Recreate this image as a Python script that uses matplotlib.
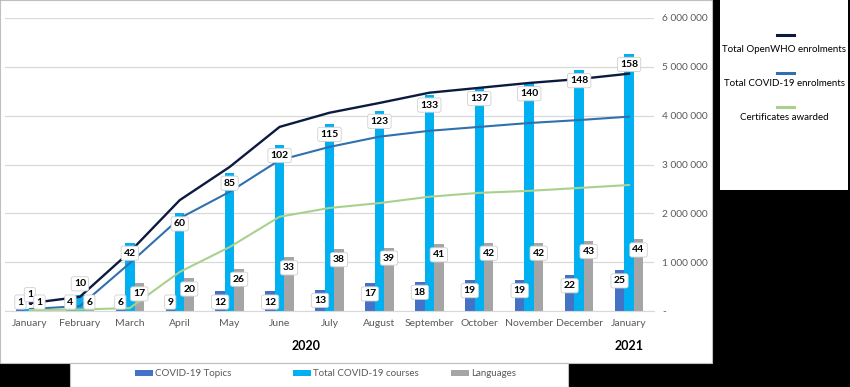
import matplotlib.pyplot as plt
from matplotlib.patches import Rectangle
from matplotlib.lines import Line2D
from matplotlib.ticker import FuncFormatter, MultipleLocator

plt.rcParams['font.family'] = ['Lato', 'DejaVu Sans']

# --- DATA ---
months = ["January", "February", "March", "April", "May", "June", "July",
          "August", "September", "October", "November", "December", "January"]
topics = [1, 4, 6, 9, 12, 12, 13, 17, 18, 19, 19, 22, 25]
courses = [1, 10, 42, 60, 85, 102, 115, 123, 133, 137, 140, 148, 158]
languages = [1, 6, 17, 20, 26, 33, 38, 39, 41, 42, 42, 43, 44]

openwho_enrol = [160000, 290000, 1210000, 2270000, 2950000, 3770000, 4060000,
                 4260000, 4470000, 4570000, 4670000, 4750000, 4860000]
covid_enrol = [40000, 100000, 980000, 1900000, 2440000, 3090000, 3360000,
               3570000, 3690000, 3770000, 3850000, 3910000, 3980000]
certificates = [20000, 30000, 60000, 800000, 1310000, 1930000, 2110000,
                2210000, 2340000, 2420000, 2460000, 2520000, 2580000]

# --- CONFIGURATION ---
W, H = 850, 387
C_TOPICS = '#4472C4'
C_COURSES = '#00B0F0'
C_LANG = '#A5A5A5'
C_OPENWHO = '#0C1A40'
C_COVID = '#3070AE'
C_CERT = '#A9D18E'
GREY_TXT = '#595959'


def fx(x):
    return x / W


def fy(y):
    return 1 - y / H


fig = plt.figure(figsize=(W / 100, H / 100), dpi=100, facecolor='black')

# white panels (chart area, right legend, bottom legend)
fig.add_artist(Rectangle((0, fy(363)), fx(712), 1 - fy(363), transform=fig.transFigure,
                         fc='white', ec='#BFBFBF', lw=0.8, zorder=0))
fig.add_artist(Rectangle((fx(720), fy(190)), fx(848) - fx(720), 1 - fy(190),
                         transform=fig.transFigure, fc='white', ec='none', zorder=0))
fig.add_artist(Rectangle((fx(70), 0), fx(568) - fx(70), fy(363), transform=fig.transFigure,
                         fc='white', ec='#BFBFBF', lw=0.8, zorder=0))

ax = fig.add_axes([fx(5), fy(311), fx(654) - fx(5), fy(18) - fy(311)])
ax.patch.set_alpha(0)
ax2 = ax.twinx()

x = list(range(len(months)))
bw = 0.19

ax.bar([i - bw for i in x], topics, bw, color=C_TOPICS, zorder=2)
ax.bar(x, courses, bw, color=C_COURSES, zorder=2)
ax.bar([i + bw for i in x], languages, bw, color=C_LANG, zorder=2)

ax.set_xlim(-0.5, len(months) - 0.5)
ax.set_ylim(0, 180)
ax.yaxis.set_major_locator(MultipleLocator(30))
ax.grid(axis='y', color='#D9D9D9', lw=0.9)
ax.set_axisbelow(True)
ax.tick_params(axis='y', left=False, labelleft=False)
ax.set_xticks(x)
ax.set_xticklabels(months, color=GREY_TXT, fontsize=7.5)
ax.tick_params(axis='x', length=0, pad=6)
for s in ['top', 'left', 'right']:
    ax.spines[s].set_visible(False)
ax.spines['bottom'].set_color('#D9D9D9')

# lines on secondary axis
ax2.plot(x, openwho_enrol, color=C_OPENWHO, lw=1.7, zorder=3)
ax2.plot(x, covid_enrol, color=C_COVID, lw=1.5, zorder=3)
ax2.plot(x, certificates, color=C_CERT, lw=1.5, zorder=3)
ax2.set_ylim(0, 6000000)
ax2.yaxis.set_major_locator(MultipleLocator(1000000))
ax2.yaxis.set_major_formatter(FuncFormatter(
    lambda v, p: '-' if v == 0 else f"{int(v):,}".replace(',', ' ')))
ax2.tick_params(axis='y', length=0, pad=6, labelsize=7.3, labelcolor=GREY_TXT)
for s in ax2.spines.values():
    s.set_visible(False)

# data labels (drawn on top of lines)
box = dict(boxstyle='round,pad=0.25,rounding_size=0.2', fc='white', ec='#CFCFCF', lw=0.6)
raised = {(1, 1): 16.7, (0, 1): 10}
for k, (vals, off) in enumerate([(topics, -bw), (courses, 0), (languages, bw)]):
    for i, v in enumerate(vals):
        ypos = raised.get((i, k), max(v - 6.5, 5.5))
        ax2.text(i + off, ypos, str(v), transform=ax.transData, ha='center', va='center',
                 fontsize=7.5, fontweight='bold', color='black', bbox=box, zorder=5)
ax2.text(0, 3.8, '-', transform=ax.transData, ha='center', va='center',
         fontsize=7, fontweight='bold', color='black', zorder=5)

# year labels
fig.text(fx(306), fy(346), '2020', ha='center', va='center', fontsize=9, fontweight='bold')
fig.text(fx(629), fy(346), '2021', ha='center', va='center', fontsize=9, fontweight='bold')

# right legend (line handle above its text)
for name, col, yl, yt in [("Total OpenWHO enrolments", C_OPENWHO, 35, 49),
                          ("Total COVID-19 enrolments", C_COVID, 73, 84),
                          ("Certificates awarded", C_CERT, 107, 118)]:
    fig.add_artist(Line2D([fx(777), fx(794)], [fy(yl), fy(yl)], color=col, lw=2.2,
                          transform=fig.transFigure))
    fig.text(fx(784), fy(yt), name, ha='center', va='center', fontsize=7, color='black')

# bottom legend
for name, col, x0 in [("COVID-19 Topics", C_TOPICS, 135),
                      ("Total COVID-19 courses", C_COURSES, 293),
                      ("Languages", C_LANG, 451)]:
    fig.add_artist(Rectangle((fx(x0), fy(376)), fx(18), fy(370) - fy(376), fc=col,
                             ec='none', transform=fig.transFigure))
    fig.text(fx(x0 + 20), fy(373), name, ha='left', va='center', fontsize=7, color=GREY_TXT)

fig.savefig('out.png', dpi=100, facecolor='black')
plt.close(fig)
